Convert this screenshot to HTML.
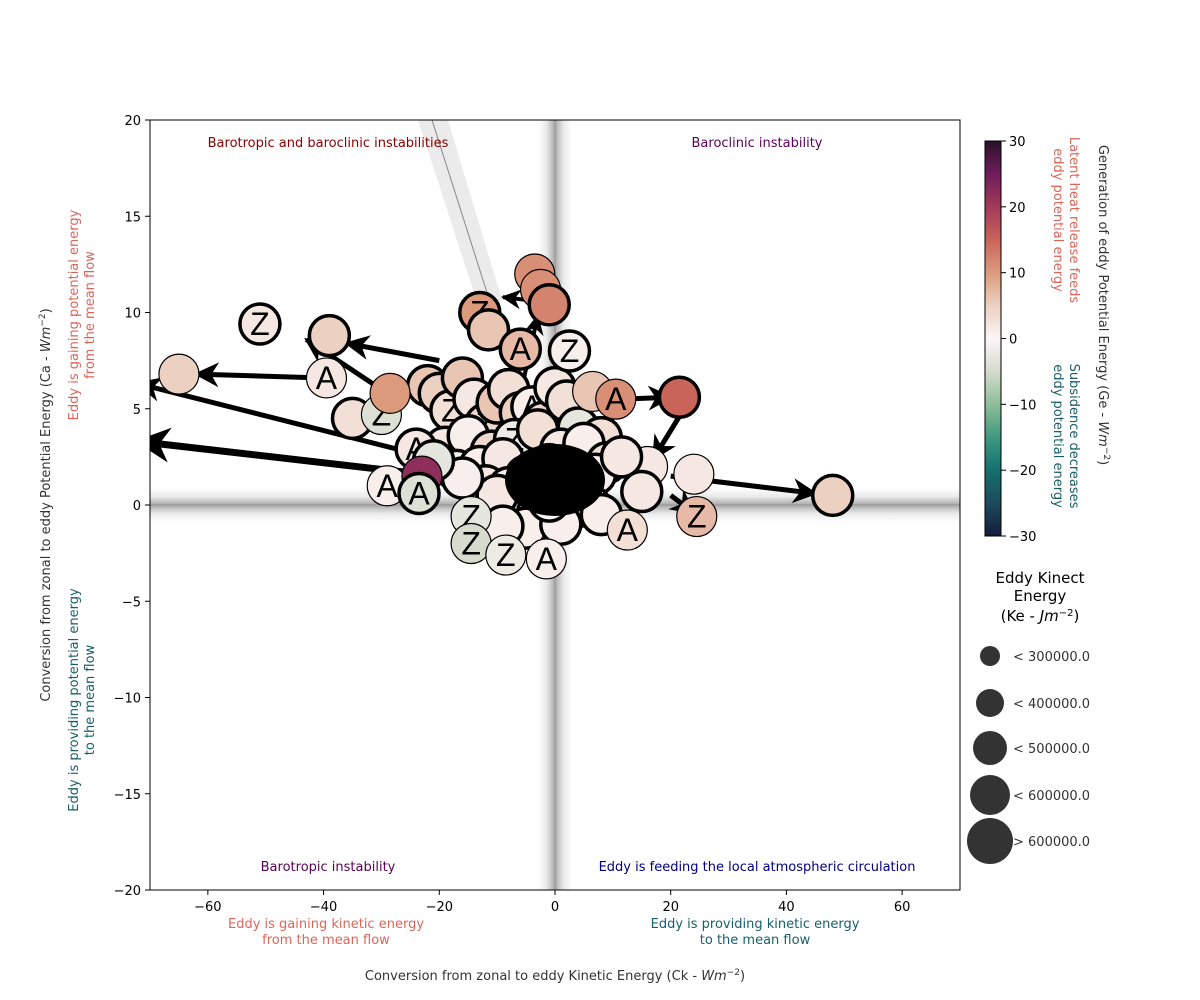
<!DOCTYPE html>
<html><head><meta charset="utf-8">
<style>
html,body{margin:0;padding:0;background:#fff;}
svg{display:block;font-family:"DejaVu Sans","Liberation Sans",sans-serif;}
</style></head>
<body>
<svg id="chart" width="1200" height="1000" viewBox="0 0 1200 1000" xmlns="http://www.w3.org/2000/svg">
<defs>
<linearGradient id="vband" x1="0" x2="1" y1="0" y2="0">
<stop offset="0" stop-color="#fff"/><stop offset="0.25" stop-color="#e6e6e6"/><stop offset="0.45" stop-color="#aaa"/><stop offset="0.5" stop-color="#888"/><stop offset="0.55" stop-color="#aaa"/><stop offset="0.75" stop-color="#e6e6e6"/><stop offset="1" stop-color="#fff"/>
</linearGradient>
<linearGradient id="hband" x1="0" x2="0" y1="0" y2="1">
<stop offset="0" stop-color="#fff"/><stop offset="0.25" stop-color="#e6e6e6"/><stop offset="0.45" stop-color="#aaa"/><stop offset="0.5" stop-color="#888"/><stop offset="0.55" stop-color="#aaa"/><stop offset="0.75" stop-color="#e6e6e6"/><stop offset="1" stop-color="#fff"/>
</linearGradient>
<linearGradient id="cbar" x1="0" x2="0" y1="1" y2="0">
<stop offset="0" stop-color="#151d3c"/><stop offset="0.083" stop-color="#1d4a5c"/><stop offset="0.167" stop-color="#13716f"/><stop offset="0.25" stop-color="#3f9a80"/><stop offset="0.333" stop-color="#8cbd97"/><stop offset="0.417" stop-color="#d6dccd"/><stop offset="0.5" stop-color="#fbf6f5"/><stop offset="0.583" stop-color="#ecd0c2"/><stop offset="0.667" stop-color="#dc9a7c"/><stop offset="0.75" stop-color="#c8645a"/><stop offset="0.833" stop-color="#a23a5a"/><stop offset="0.917" stop-color="#6f1d5c"/><stop offset="1" stop-color="#2a1029"/>
</linearGradient>
<clipPath id="plotclip"><rect x="150" y="120" width="810" height="770"/></clipPath>
<marker id="arr" viewBox="0 0 10 10" refX="9" refY="5" markerWidth="5" markerHeight="5" orient="auto" markerUnits="strokeWidth"><path d="M0,0 L10,5 L0,10 L3,5 z" fill="#000"/></marker>
</defs>
<g id="plot" clip-path="url(#plotclip)">
<rect x="538" y="120" width="34" height="770" fill="url(#vband)" opacity="0.85"/>
<rect x="150" y="488" width="810" height="34" fill="url(#hband)" opacity="0.85"/>
<polygon points="418,120 448,120 502,300 478,305" fill="#ccc" opacity="0.4"/>
<line x1="432" y1="120" x2="490" y2="302" stroke="#888" stroke-width="1"/>
<g id="tracks"></g>
<g id="points"></g>
</g>
<rect x="150" y="120" width="810" height="770" fill="none" stroke="#000" stroke-width="1"/>
<g id="axes"></g>
<g font-size="13">
<text x="328" y="147" text-anchor="middle" fill="#8b0000">Barotropic and baroclinic instabilities</text>
<text x="757" y="147" text-anchor="middle" fill="#5a005a">Baroclinic instability</text>
<text x="328" y="871" text-anchor="middle" fill="#5a005a">Barotropic instability</text>
<text x="757" y="871" text-anchor="middle" fill="#000080">Eddy is feeding the local atmospheric circulation</text>
<text x="326" y="928" text-anchor="middle" fill="#d9665b">Eddy is gaining kinetic energy<tspan x="326" dy="16">from the mean flow</tspan></text>
<text x="755" y="928" text-anchor="middle" fill="#1a5e6a">Eddy is providing kinetic energy<tspan x="755" dy="16">to the mean flow</tspan></text>
<text x="555" y="980" text-anchor="middle" fill="#333">Conversion from zonal to eddy Kinetic Energy (Ck - <tspan font-style="italic">Wm</tspan><tspan dy="-5" font-size="9">−2</tspan><tspan dy="5">)</tspan></text>
<text transform="translate(50,505) rotate(-90)" text-anchor="middle" fill="#333">Conversion from zonal to eddy Potential Energy (Ca - <tspan font-style="italic">Wm</tspan><tspan dy="-5" font-size="9">−2</tspan><tspan dy="5">)</tspan></text>
<text transform="translate(78,315) rotate(-90)" text-anchor="middle" fill="#d9665b">Eddy is gaining potential energy<tspan x="0" dy="16">from the mean flow</tspan></text>
<text transform="translate(78,700) rotate(-90)" text-anchor="middle" fill="#1a5e6a">Eddy is providing potential energy<tspan x="0" dy="16">to the mean flow</tspan></text>
<text transform="translate(1099,305) rotate(90)" text-anchor="middle" fill="#333">Generation of eddy Potential Energy (Ge - <tspan font-style="italic">Wm</tspan><tspan dy="-5" font-size="9">−2</tspan><tspan dy="5">)</tspan></text>
<text transform="translate(1070,220) rotate(90)" text-anchor="middle" fill="#d9665b">Latent heat release feeds<tspan x="0" dy="16">eddy potential energy</tspan></text>
<text transform="translate(1070,436) rotate(90)" text-anchor="middle" fill="#1a5e6a">Subsidence decreases<tspan x="0" dy="16">eddy potential energy</tspan></text>
</g>
<rect x="985" y="141" width="16" height="395" fill="url(#cbar)" stroke="#000" stroke-width="1"/>
<g id="cbticks"></g>
<g font-size="15" fill="#000" text-anchor="middle">
<text x="1040" y="583">Eddy Kinect<tspan x="1040" dy="18">Energy</tspan><tspan x="1040" dy="20">(Ke - </tspan><tspan font-style="italic">Jm</tspan><tspan dy="-5" font-size="10">−2</tspan><tspan dy="5">)</tspan></text>
</g>
<g id="sizelegend"></g>
<script>
const px0=150,px1=960,py0=120,py1=890;
function X(v){return px0+(v+70)/140*(px1-px0);}
function Y(v){return py1-(v+20)/40*(py1-py0);}
function CB(v){return 536-(v+30)/60*395;}
const xTicks=[-60,-40,-20,0,20,40,60];
const yTicks=[-20,-15,-10,-5,0,5,10,15,20];
const cbTicks=[-30,-20,-10,0,10,20,30];
const sizeLabels=["< 300000.0","< 400000.0","< 500000.0","< 600000.0","> 600000.0"];
const sizeRadii=[10,14,17,20,23];
// points: Ck, Ca, Ge, Ke class (0-4), label, bold outline
const ptCk=[-65,-51,-39,-39.5,-35,-30,-28.5,-29,-23,-23.5,-3.5,-2.5,-1,-13,-11.5,-6,2.5,6.5,10.5,21.5,16,24,48,24.5,12.5,-14.5,-14.5,-8.5,-1.5,15,11.5,
-22,-20,-18,-16,-14,-12,-10,-8,-6,-4,-2,0,2,4,6,8,-19,-15,-11,-7,-3,1,5,9,-17,-13,-9,-5,-1,3,7,-12,-8,-4,0,4,-6,-2,2,6,-10,-3,3,-16,-24,-21,-5,1,8,-9,-1];
const ptCa=[6.8,9.4,8.8,6.6,4.5,4.7,5.8,1.0,1.5,0.6,12,11.2,10.4,10,9.1,8.1,8.0,5.9,5.5,5.6,2.0,1.6,0.5,-0.6,-1.3,-0.6,-2.0,-2.6,-2.8,0.7,2.5,
6.2,5.8,4.9,6.6,5.5,4.2,5.3,6.0,4.8,5.1,4.3,6.1,5.4,4.0,2.6,3.5,3.0,3.6,2.8,3.4,3.9,2.9,3.2,2.2,1.8,2.0,2.4,1.5,2.1,1.7,1.6,1.0,0.9,1.2,0.8,1.1,0.3,0.4,0.6,0.0,0.5,-0.4,-0.2,1.4,2.9,2.3,-1.2,-1.0,-0.5,-1.1,0.2];
const ptGe=[5,2,5,2,3,-4,10,1,22,-4,11,11,12,10,6,7,1,6,11,15,2,2,5,7,3,-3,-5,-2,1,2,2,
6,5,3,6,2,4,6,3,5,1,4,2,3,-3,2,3,2,1,4,-2,3,2,1,3,1,1,2,0,3,1,1,2,1,1,0,1,1,-1,1,1,2,1,0,1,2,-3,1,1,1,1,0];
const ptKe=[2,2,2,2,2,2,2,2,2,2,2,2,2,2,2,2,2,2,2,2,2,2,2,2,2,2,2,2,2,2,2,
2,2,2,2,2,2,2,2,2,2,2,2,2,2,2,2,2,2,2,2,2,2,2,2,2,2,2,2,2,2,2,2,2,2,2,2,2,2,2,2,2,2,2,2,2,2,2,2,2,2,2];
const ptLab=["","Z","","A","","Z","","A","","A","","","","Z","","A","Z","","A","","","","","Z","A","Z","Z","Z","A","","",
"","","Z","","","Z","","","","A","","","","","A","","","","","Z","","","","","","","","","","","","","","","","","","","","","","Z","","","A","","","","",""];
const ptBold=[0,1,1,0,1,0,0,0,0,1,0,0,1,1,1,1,1,0,0,1,0,0,1,0,0,0,0,0,0,1,1,
1,1,1,1,1,1,1,1,1,1,1,1,1,1,1,1,1,1,1,1,1,1,1,1,1,1,1,1,1,1,1,1,1,1,1,1,1,1,1,1,1,1,1,1,1,1,1,1,1,1,1];
// tracks (arrows): from Ck/Ca to Ck/Ca
const trFromCk=[-20,-22,-40,-28,-20,-3.5,12,21.5,20,20,-8];
const trFromCa=[1.5,2.5,6.6,5.6,7.5,10.6,5.5,4.6,1.5,0.5,3];
const trToCk=[-72,-72,-62,-43,-36,-9,20,17,45,24,-3];
const trToCa=[3.3,6.3,6.8,8.6,8.4,10.8,5.6,2.4,0.6,-0.4,9.8];
const trWidth=[7,5,5,5,5,4,5,5,5,5,4];

const cmapV=[-30,-25,-20,-15,-10,-5,0,5,10,15,20,25,30];
const cmapC=["#151d3c","#1d4a5c","#13716f","#3f9a80","#8cbd97","#d6dccd","#fbf6f5","#ecd0c2","#dc9a7c","#c8645a","#a23a5a","#6f1d5c","#2a1029"];
function hex(c){return [1,3,5].map(i=>parseInt(c.substr(i,2),16));}
function cmap(v){v=Math.max(-30,Math.min(30,v));let i=Math.min(11,Math.floor((v+30)/5));let t=(v-cmapV[i])/5;let a=hex(cmapC[i]),b=hex(cmapC[i+1]);return "rgb("+a.map((x,k)=>Math.round(x+(b[k]-x)*t)).join(",")+")";}
const NS="http://www.w3.org/2000/svg";
function mk(tag,attrs,parent){const e=document.createElementNS(NS,tag);for(const k in attrs)e.setAttribute(k,attrs[k]);parent.appendChild(e);return e;}

const axes=document.getElementById('axes');
xTicks.forEach(v=>{
 const t=mk('line',{x1:X(v),x2:X(v),y1:890,y2:895,stroke:'#000'},axes);
 
 
 const l=mk('text',{x:X(v),y:911,'text-anchor':'middle','font-size':13},axes);
 l.textContent=(v<0?'−':'')+Math.abs(v);
 
 
});
yTicks.forEach(v=>{
 const t=mk('line',{x1:145,x2:150,y1:Y(v),y2:Y(v),stroke:'#000'},axes);
 
 
 const l=mk('text',{x:141,y:Y(v)+5,'text-anchor':'end','font-size':13},axes);
 l.textContent=(v<0?'−':'')+Math.abs(v);
 
 
});
const cbt=document.getElementById('cbticks');
cbTicks.forEach(v=>{
 const t=mk('line',{x1:1001,x2:1006,y1:CB(v),y2:CB(v),stroke:'#000'},cbt);
 
 
 const l=mk('text',{x:1009,y:CB(v)+5,'font-size':13},cbt);
 l.textContent=(v<0?'−':'')+Math.abs(v);
 
 
});
const tracks=document.getElementById('tracks');
trFromCk.forEach((v,i)=>{
 const ln=mk('line',{x1:X(v),y1:Y(trFromCa[i]),x2:X(trToCk[i]),y2:Y(trToCa[i]),stroke:'#000','stroke-width':trWidth[i],'marker-end':'url(#arr)'},tracks);
 
 
});
const pts=document.getElementById('points');
const order=[...ptCk.keys()].sort((a,b)=>(a>=31?0:1)-(b>=31?0:1));
order.forEach(i=>{
 const r=[12,16,20,22,24][ptKe[i]];
 const c=mk('circle',{cx:X(ptCk[i]),cy:Y(ptCa[i]),r:r,fill:cmap(ptGe[i]),stroke:'#000','stroke-width':ptBold[i]?3.5:1.2},pts);
 
 
 if(ptLab[i]){
  const t=mk('text',{x:X(ptCk[i]),y:Y(ptCa[i])+11,'text-anchor':'middle','font-size':32,'font-family':'Liberation Sans, sans-serif'},pts);
  t.textContent=ptLab[i];
  
  
 }
});
const blob=mk('ellipse',{cx:X(0),cy:Y(1.3),rx:50,ry:36,fill:'#000'},pts);


const sl=document.getElementById('sizelegend');
sizeLabels.forEach((s,i)=>{
 const cy=[656,703,748,795,841][i];
 const c=mk('circle',{cx:990,cy:cy,r:sizeRadii[i],fill:'#333'},sl);
 
 
 const t=mk('text',{x:1013,y:cy+5,'font-size':13,fill:'#333'},sl);
 t.textContent=s;
 
 
});
</script>
</svg>
</body></html>
